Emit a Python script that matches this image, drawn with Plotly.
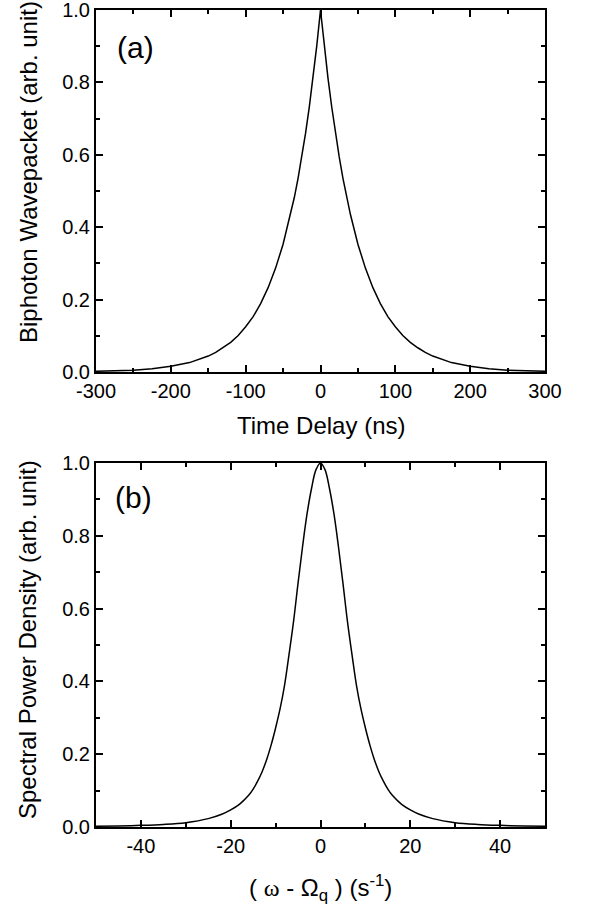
import plotly.graph_objects as go
from plotly.subplots import make_subplots

# (a) biphoton wavepacket vs time delay (ns)
delay_ns = [-300, -275, -250, -225, -200, -175, -150, -140, -130, -120, -110, -100,
            -90, -80, -70, -60, -50, -40, -35, -30, -25, -20, -15, -10, -5, 0,
            5, 10, 15, 20, 25, 30, 35, 40, 50, 60, 70, 80, 90,
            100, 110, 120, 130, 140, 150, 175, 200, 225, 250, 275, 300]
wavepacket = [0.002, 0.003, 0.005, 0.009, 0.016, 0.026, 0.044, 0.054, 0.067, 0.082, 0.101, 0.125,
              0.153, 0.189, 0.233, 0.287, 0.353, 0.435, 0.482, 0.535, 0.594, 0.659, 0.732, 0.812, 0.901, 1.0,
              0.901, 0.812, 0.732, 0.659, 0.594, 0.535, 0.482, 0.435, 0.353, 0.287, 0.233, 0.189, 0.153,
              0.125, 0.101, 0.082, 0.067, 0.054, 0.044, 0.026, 0.016, 0.009, 0.005, 0.003, 0.002]

# (b) spectral power density vs detuning (s^-1)
detuning = [-50, -45, -40, -35, -30, -25, -22, -20, -18, -16, -15, -14, -13, -12, -11, -10,
            -9, -8, -7, -6, -5, -4, -3, -2, -1, 0, 1, 2, 3, 4, 5, 6, 7, 8, 9,
            10, 11, 12, 13, 14, 15, 16, 18, 20, 22, 25, 30, 35, 40, 45, 50]
spectrum = [0.002, 0.003, 0.0045, 0.007, 0.012, 0.023, 0.035, 0.047, 0.063, 0.087, 0.104, 0.126, 0.152, 0.185, 0.225, 0.272,
            0.325, 0.39, 0.475, 0.565, 0.67, 0.77, 0.86, 0.93, 0.982, 1.0, 0.982, 0.93, 0.86, 0.77, 0.67, 0.565, 0.475, 0.39, 0.325,
            0.272, 0.225, 0.185, 0.152, 0.126, 0.104, 0.087, 0.063, 0.047, 0.035, 0.023, 0.012, 0.007, 0.0045, 0.003, 0.002]

# tick labels (plain hyphen minus as in the original)
delay_ticks = [-300, -200, -100, 0, 100, 200, 300]
detuning_ticks = [-40, -20, 0, 20, 40]
y_ticks = [0.0, 0.2, 0.4, 0.6, 0.8, 1.0]

FONT = "Liberation Sans, Arial, sans-serif"

fig = make_subplots(rows=2, cols=1)
fig.add_trace(go.Scatter(x=delay_ns, y=wavepacket, mode="lines",
                         line=dict(color="black", width=1.5)), row=1, col=1)
fig.add_trace(go.Scatter(x=detuning, y=spectrum, mode="lines", line_shape="spline",
                         line=dict(color="black", width=1.5)), row=2, col=1)

axis_style = dict(showline=True, linecolor="black", linewidth=2, mirror="allticks",
                  ticks="inside", ticklen=7, tickwidth=1.5, tickcolor="black",
                  showgrid=False, zeroline=False, automargin=False, ticklabeloverflow="allow",
                  tickfont=dict(family=FONT, size=20, color="black"))
minor = lambda d: dict(ticks="inside", ticklen=4, dtick=d, tickcolor="black", tickwidth=1.5)

fig.update_xaxes(range=[-300, 300], tickvals=delay_ticks, ticktext=[str(v) for v in delay_ticks],
                 minor=minor(50), domain=[0, 1], **axis_style, row=1, col=1)
fig.update_xaxes(range=[-50, 50], tickvals=detuning_ticks, ticktext=[str(v) for v in detuning_ticks],
                 minor=minor(10), domain=[0, 1], **axis_style, row=2, col=1)
fig.update_yaxes(range=[0, 1], tickvals=y_ticks, ticktext=[f"{v:.1f}" for v in y_ticks],
                 minor=minor(0.1), domain=[0.5569, 1], **axis_style, row=1, col=1)
fig.update_yaxes(range=[0, 1], tickvals=y_ticks, ticktext=[f"{v:.1f}" for v in y_ticks],
                 minor=minor(0.1), domain=[0, 0.4455], **axis_style, row=2, col=1)

title_font = dict(family=FONT, size=24, color="black")
notes = [
    dict(text="Time Delay (ns)", x=0.5, y=0.492, textangle=0),
    dict(text="( <span style='font-family:Liberation Serif'>ω</span> - Ω<sub>q</sub> ) (s<sup>-1</sup>)",
         x=0.5, y=-0.0747, textangle=0),
    dict(text="Biphoton Wavepacket (arb. unit)", x=-0.1514, y=0.8017, textangle=-90),
    dict(text="Spectral Power Density (arb. unit)", x=-0.1514, y=0.2289, textangle=-90),
]
for n in notes:
    fig.add_annotation(xref="paper", yref="paper", showarrow=False,
                       xanchor="center", yanchor="middle", font=title_font, **n)

for label, x, y in [("(a)", 0.0869, 0.9535), ("(b)", 0.0846, 0.4027)]:
    fig.add_annotation(text=label, xref="paper", yref="paper", x=x, y=y, showarrow=False,
                       xanchor="center", yanchor="middle",
                       font=dict(family=FONT, size=30, color="black"))

fig.update_layout(width=594, height=908, showlegend=False,
                  margin=dict(l=96, r=49, t=10, b=81),
                  paper_bgcolor="white", plot_bgcolor="white")
fig.write_html("out.html", config={"displayModeBar": False},
               post_script="document.body.style.margin='0';")
